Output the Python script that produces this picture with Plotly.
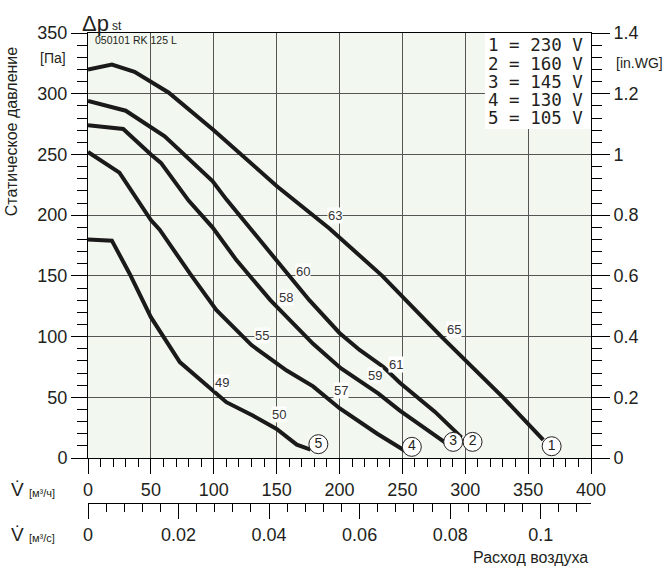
import plotly.graph_objects as go

FONT = "Liberation Sans, Arial, Helvetica, sans-serif"
MONO = "DejaVu Sans Mono, monospace"
INK = "#231f20"

# Fan curves: airflow [m³/h] and static pressure [Pa] for each supply voltage
q_230 = [0, 19, 37, 57, 64, 100, 150, 192, 234, 281, 330, 362]
p_230 = [320, 324, 318, 306, 301, 270, 224, 189, 150, 100, 50, 15]

q_160 = [0, 30, 61, 99, 110, 130, 166, 176, 200, 216, 235, 248, 276, 297]
p_160 = [294, 286, 265, 228, 213, 188, 143, 130, 103, 89, 75, 62, 38, 17]

q_145 = [0, 28, 50, 58, 80, 99, 118, 145, 179, 201, 231, 248, 285]
p_145 = [274, 271, 250, 243, 212, 190, 163, 130, 94, 74, 53, 39, 12]

q_130 = [0, 25, 50, 57, 81, 102, 130, 158, 179, 200, 230, 252]
p_130 = [252, 235, 196, 188, 152, 122, 93, 72, 59, 41, 20, 6]

q_105 = [0, 19, 33, 50, 73, 94, 110, 131, 150, 166, 177]
p_105 = [180, 179, 152, 116, 79, 60, 46, 35, 24, 11, 7]

curve_ids = ["1", "2", "3", "4", "5"]
voltages = ["230", "160", "145", "130", "105"]

# Sound level tags along the curves (text, airflow, pressure where the tag sits)
tag_text = ["63", "65", "60", "61", "58", "59", "55", "57", "49", "50"]
tag_q = [196.3, 290.9, 171.0, 244.8, 157.8, 228.3, 138.0, 201.0, 106.9, 152.0]
tag_p = [199.6, 105.9, 153.4, 77.3, 132.3, 68.3, 101.2, 55.9, 62.2, 36.1]

# Numbered badges next to the curve ends
badge_q = [368.7, 305.8, 290.4, 257.5, 183.2]
badge_p = [9.7, 13.3, 13.3, 9.2, 11.4]

# Axis limits and unit conversions
Q_MAX = 400            # m³/h
P_MAX = 350            # Pa
PA_PER_WG = 250        # Pa per in.WG (chart scale)
WG_MAX = P_MAX / PA_PER_WG
QS_MAX = Q_MAX / 3600  # m³/s

curves = [(q_230, p_230), (q_160, p_160), (q_145, p_145), (q_130, p_130), (q_105, p_105)]

fig = go.Figure()
for (q, p), cid, v in zip(curves, curve_ids, voltages):
    fig.add_trace(go.Scatter(
        x=q, y=p, mode="lines", name=f"{cid} = {v} V",
        line=dict(color="#1a1a1a", width=4),
        hoverinfo="skip", showlegend=False,
    ))

# Same top curve in secondary units (m³/s, in.WG) so the secondary axes are laid out
fig.add_trace(go.Scatter(
    x=[q / 3600 for q in q_230], y=[p / PA_PER_WG for p in p_230],
    xaxis="x2", yaxis="y2", mode="lines",
    line=dict(color="rgba(0,0,0,0)", width=0),
    hoverinfo="skip", showlegend=False,
))

fig.add_trace(go.Scatter(
    x=badge_q, y=badge_p, mode="markers+text", text=curve_ids,
    textposition="middle center",
    textfont=dict(family=FONT, size=14, color=INK),
    marker=dict(size=19, color="white", line=dict(color=INK, width=1)),
    hoverinfo="skip", showlegend=False, cliponaxis=False,
))

annotations = []
for t, q, p in zip(tag_text, tag_q, tag_p):
    annotations.append(dict(
        x=q, y=p, xref="x", yref="y", text=t, showarrow=False,
        font=dict(family=FONT, size=13, color="#333333"),
        bgcolor="white", borderpad=0,
    ))

# Voltage key in the upper right corner
key_y = [0.972, 0.928, 0.885, 0.842, 0.799]
for cid, v, yy in zip(curve_ids, voltages, key_y):
    annotations.append(dict(
        x=0.792, y=yy, xref="x domain", yref="y domain",
        text=f"{cid} = {v} V", showarrow=False,
        xanchor="left", yanchor="middle",
        font=dict(family=MONO, size=17.5, color=INK),
    ))

def ptext(x, y, text, size, xanchor="center", yanchor="middle", **kw):
    annotations.append(dict(
        x=x, y=y, xref="paper", yref="paper", text=text, showarrow=False,
        xanchor=xanchor, yanchor=yanchor,
        font=dict(family=FONT, size=size, color=INK), **kw,
    ))

ptext(-0.016, 1.021, "Δp", 22, xanchor="left")
ptext(0.044, 1.014, "st", 12, xanchor="left")
ptext(0.009, 0.986, "050101 RK 125 L", 10.5, xanchor="left")
ptext(-0.0696, 0.947, "[Па]", 14)
ptext(1.0964, 0.936, "[in.WG]", 14)
ptext(-0.152, 0.79, "Статическое давление", 16, textangle=-90)
ptext(-0.123, 0.0285, "V̇", 19, xanchor="right")
ptext(-0.121, 0.022, "[м³/ч]", 11, xanchor="left")
ptext(-0.123, -0.0675, "V̇", 19, xanchor="right")
ptext(-0.121, -0.074, "[м³/с]", 11, xanchor="left")
ptext(0.998, -0.117, "Расход воздуха", 16, xanchor="right")

Y_DOMAIN = [0.0957, 1.0]

fig.update_layout(
    width=669, height=567,
    margin=dict(l=88, r=78, t=33, b=64, pad=0),
    paper_bgcolor="white",
    plot_bgcolor="#f2f7ef",
    font=dict(family=FONT, size=18, color=INK),
    annotations=annotations,
    shapes=[dict(
        type="rect", xref="x domain", yref="y domain",
        x0=0.789, x1=1.0, y0=0.774, y1=1.0,
        fillcolor="white", line=dict(width=0), layer="above",
    )],
    xaxis=dict(
        range=[0, Q_MAX], domain=[0, 1], anchor="y",
        dtick=50, tick0=0,
        ticks="outside", ticklen=15, tickwidth=1, tickcolor="black",
        minor=dict(dtick=10, ticks="outside", ticklen=8, tickwidth=1,
                   tickcolor="black", showgrid=False),
        showgrid=True, gridcolor="#555555", gridwidth=1,
        showline=True, linecolor="black", linewidth=1, mirror=True,
        zeroline=False, tickfont=dict(size=18, color=INK),
    ),
    xaxis2=dict(
        range=[0, QS_MAX], overlaying="x", anchor="free", position=0,
        side="bottom", dtick=0.02, tick0=0,
        ticks="outside", ticklen=15, tickwidth=1, tickcolor="black",
        minor=dict(dtick=0.004, ticks="outside", ticklen=8, tickwidth=1,
                   tickcolor="black", showgrid=False),
        showgrid=False, showline=True, linecolor="black", linewidth=1,
        zeroline=False, tickfont=dict(size=18, color=INK),
    ),
    yaxis=dict(
        range=[0, P_MAX], domain=Y_DOMAIN, anchor="x",
        dtick=50, tick0=0,
        ticks="outside", ticklen=16, tickwidth=1, tickcolor="black",
        minor=dict(dtick=10, ticks="outside", ticklen=10, tickwidth=1,
                   tickcolor="black", showgrid=False),
        showgrid=True, gridcolor="#555555", gridwidth=1,
        showline=True, linecolor="black", linewidth=1,
        zeroline=False, tickfont=dict(size=18, color=INK),
    ),
    yaxis2=dict(
        range=[0, WG_MAX], domain=Y_DOMAIN, overlaying="y", side="right",
        anchor="x", dtick=0.2, tick0=0,
        ticks="outside", ticklen=18, tickwidth=1, tickcolor="black",
        minor=dict(dtick=0.04, ticks="outside", ticklen=10, tickwidth=1,
                   tickcolor="black", showgrid=False),
        showgrid=False, showline=True, linecolor="black", linewidth=1,
        zeroline=False, tickfont=dict(size=18, color=INK),
    ),
)

fig.write_html("out.html")
